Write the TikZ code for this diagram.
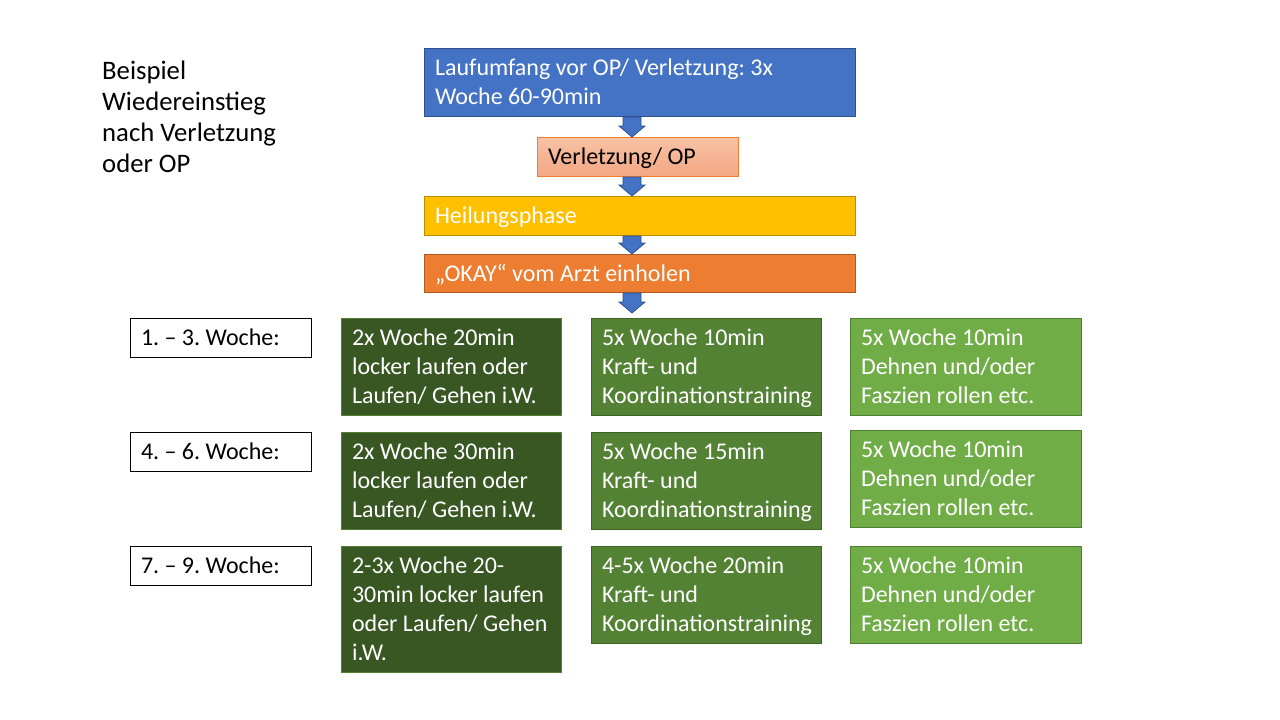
\documentclass[tikz,border=0pt]{standalone}
\usepackage{fontspec}
\setmainfont{Carlito}
\usetikzlibrary{calc}
\definecolor{cBlue}{HTML}{4472C4}
\definecolor{cBlueD}{HTML}{2F528F}
\definecolor{cSalT}{HTML}{F7C2A4}
\definecolor{cSalB}{HTML}{F4A784}
\definecolor{cSalD}{HTML}{ED7D31}
\definecolor{cYel}{HTML}{FFC000}
\definecolor{cYelD}{HTML}{BC8C00}
\definecolor{cOra}{HTML}{ED7D31}
\definecolor{cOraD}{HTML}{AE5A21}
\definecolor{cDG}{HTML}{385723}
\definecolor{cDGD}{HTML}{548235}
\definecolor{cMG}{HTML}{548235}
\definecolor{cMGD}{HTML}{3F6428}
\definecolor{cLG}{HTML}{70AD47}
\definecolor{cLGD}{HTML}{507E32}
\newcommand\boxstrut{\rule[-6.7pt]{0pt}{29pt}}
\tikzset{
  bx/.style 2 args={rectangle, draw, line width=1pt, inner xsep=0pt, inner ysep=0pt,
    anchor=north west, align=left, text=white,
    minimum width=#1pt, text width=#1pt, minimum height=#2pt,
    font=\fontsize{24}{29}\selectfont,
    execute at begin node={\frenchspacing\spaceskip=0.226em\xspaceskip=0.226em\leftskip=10.5pt\hyphenpenalty=10000\exhyphenpenalty=10000\boxstrut},
    execute at end node=\boxstrut},
  barrow/.style={fill=cBlue, draw=cBlueD, line width=0.8pt, line join=miter},
}
\newcommand\blockarr[2]{\draw[barrow] let \p1=(#1), \p2=(#2) in
  (\x1-9pt,\y1) -- (\x1+9pt,\y1) -- (\x1+9pt,\y2+11pt) -- (\x1+13pt,\y2+11pt)
  -- (\x2,\y2) -- (\x1-13pt,\y2+11pt) -- (\x1-9pt,\y2+11pt) -- cycle;}
\begin{document}
\frenchspacing
\begin{tikzpicture}[x=1pt,y=-1pt]
\useasboundingbox[fill=white] (0,0) rectangle (1280,720);

\node[anchor=north west, inner sep=0pt, align=left, font=\fontsize{26.7}{31}\selectfont,
  execute at begin node=\strut] (title) at (102,60.3)
  {Beispiel\\Wiedereinstieg\\nach Verletzung\\oder OP};

\node[bx={431}{68}, fill=cBlue, draw=cBlueD]
  (blue) at (424,48) {Laufumfang vor OP/ Verletzung: 3x\\Woche 60-90min};
\node[bx={201}{39}, top color=cSalT, bottom color=cSalB, draw=cSalD, text=black]
  (sal) at (537,137) {Verletzung/ OP};
\node[bx={431}{39}, fill=cYel, draw=cYelD]
  (yel) at (424,196) {Heilungsphase};
\node[bx={431}{38}, fill=cOra, draw=cOraD]
  (ora) at (424,254) {„OKAY“ vom Arzt einholen};

\coordinate (ax) at (632,0);
\coordinate (aend) at (632,313);
\blockarr{blue.south -| ax}{sal.north -| ax}
\blockarr{sal.south -| ax}{yel.north -| ax}
\blockarr{yel.south -| ax}{ora.north -| ax}
\blockarr{ora.south -| ax}{aend}

\node[bx={181}{39}, fill=white, draw=black, text=black]
  (lab1) at (130,318) {1. – 3. Woche:};
\node[bx={181}{39}, fill=white, draw=black, text=black]
  (lab2) at (130,432) {4. – 6. Woche:};
\node[bx={181}{39}, fill=white, draw=black, text=black]
  (lab3) at (130,546) {7. – 9. Woche:};

\node[bx={220}{97}, fill=cDG, draw=cDGD]
  (dg1) at (341,318) {2x Woche 20min\\locker laufen oder\\Laufen/ Gehen i.W.};
\node[bx={220}{97}, fill=cDG, draw=cDGD]
  (dg2) at (341,432) {2x Woche 30min\\locker laufen oder\\Laufen/ Gehen i.W.};
\node[bx={220}{126}, fill=cDG, draw=cDGD]
  (dg3) at (341,546) {2-3x Woche 20-\\30min locker laufen\\oder Laufen/ Gehen\\i.W.};

\node[bx={230}{97}, fill=cMG, draw=cMGD]
  (mg1) at (591,318) {5x Woche 10min\\Kraft- und\\Koordinationstraining};
\node[bx={230}{97}, fill=cMG, draw=cMGD]
  (mg2) at (591,432) {5x Woche 15min\\Kraft- und\\Koordinationstraining};
\node[bx={230}{97}, fill=cMG, draw=cMGD]
  (mg3) at (591,546) {4-5x Woche 20min\\Kraft- und\\Koordinationstraining};

\node[bx={231}{97}, fill=cLG, draw=cLGD]
  (lg1) at (850,318) {5x Woche 10min\\Dehnen und/oder\\Faszien rollen etc.};
\node[bx={231}{97}, fill=cLG, draw=cLGD]
  (lg2) at (850,430) {5x Woche 10min\\Dehnen und/oder\\Faszien rollen etc.};
\node[bx={231}{97}, fill=cLG, draw=cLGD]
  (lg3) at (850,546) {5x Woche 10min\\Dehnen und/oder\\Faszien rollen etc.};
\end{tikzpicture}
\end{document}
